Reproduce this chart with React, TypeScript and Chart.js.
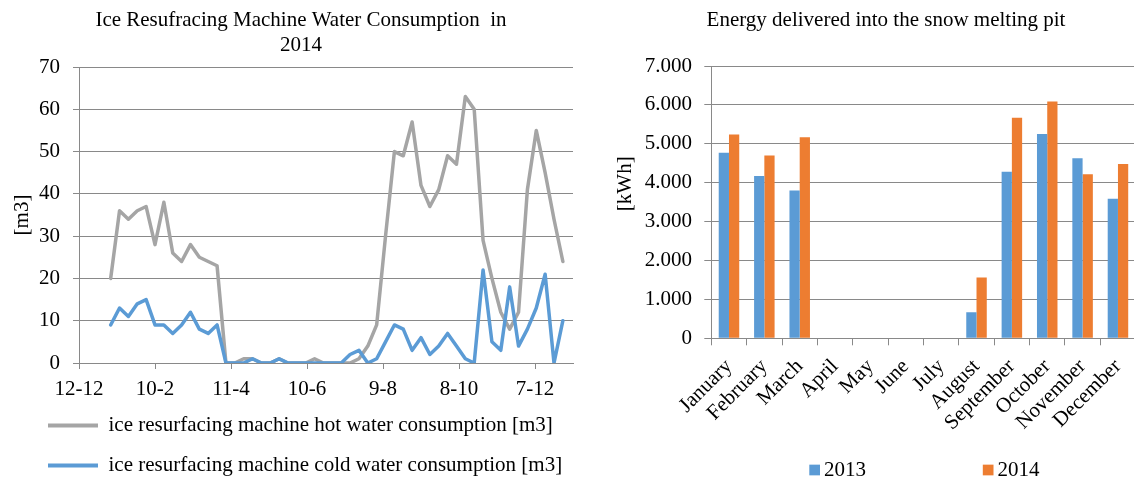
import React, { useEffect, useRef } from 'react';
import { Chart, registerables } from 'chart.js';

Chart.register(...registerables);

const FONT = '"Liberation Serif", "Times New Roman", serif';
const GRID = '#898989';
const TEXT = '#000000';

// ---------- left chart data ----------
const axisStartDate = '2013-12-12';
const weekDates = [
  '2014-01-06', '2014-01-13', '2014-01-20', '2014-01-27',
  '2014-02-03', '2014-02-10', '2014-02-17', '2014-02-24',
  '2014-03-03', '2014-03-10', '2014-03-17', '2014-03-24', '2014-03-31',
  '2014-04-07', '2014-04-14', '2014-04-21', '2014-04-28',
  '2014-05-05', '2014-05-12', '2014-05-19', '2014-05-26',
  '2014-06-02', '2014-06-09', '2014-06-16', '2014-06-23', '2014-06-30',
  '2014-07-07', '2014-07-14', '2014-07-21', '2014-07-28',
  '2014-08-04', '2014-08-11', '2014-08-18', '2014-08-25',
  '2014-09-01', '2014-09-08', '2014-09-15', '2014-09-22', '2014-09-29',
  '2014-10-06', '2014-10-13', '2014-10-20', '2014-10-27',
  '2014-11-03', '2014-11-10', '2014-11-17', '2014-11-24',
  '2014-12-01', '2014-12-08', '2014-12-15', '2014-12-22', '2014-12-29',
];
const hotWater = [
  20, 36, 34, 36, 37, 28, 38, 26, 24, 28, 25, 24, 23, 0,
  0, 1, 1, 0, 0, 1, 0, 0, 0, 1, 0, 0, 0, 0, 1, 4, 9, 30,
  50, 49, 57, 42, 37, 41, 49, 47, 63, 60, 29, 20, 12, 8, 12, 41, 55, 45, 34, 24,
];
const coldWater = [
  9, 13, 11, 14, 15, 9, 9, 7, 9, 12, 8, 7, 9, 0,
  0, 0, 1, 0, 0, 1, 0, 0, 0, 0, 0, 0, 0, 2, 3, 0, 1, 5,
  9, 8, 3, 6, 2, 4, 7, 4, 1, 0, 22, 5, 3, 18, 4, 8, 13, 21, 0, 10,
];
const xTickLabels = ['12-12', '10-2', '11-4', '10-6', '9-8', '8-10', '7-12'];
const xTickStepDays = 60;
const xAxisMaxDays = 390;
const lineTitle = ['Ice Resufracing Machine Water Consumption  in', '2014'];
const hotLabel = 'ice resurfacing machine hot water consumption [m3]';
const coldLabel = 'ice resurfacing machine cold water consumption [m3]';
const lineYTitle = '[m3]';

// ---------- right chart data ----------
const months = [
  'January', 'February', 'March', 'April', 'May', 'June',
  'July', 'August', 'September', 'October', 'November', 'December',
];
const energy2013 = [4770, 4170, 3800, 0, 0, 0, 0, 670, 4280, 5250, 4630, 3590];
const energy2014 = [5240, 4700, 5170, 0, 0, 0, 0, 1560, 5670, 6090, 4220, 4480];
const barSeriesLabels = ['2013', '2014'];
const barTitle = 'Energy delivered into the snow melting pit';
const barYTitle = '[kWh]';

const COLOR_GRAY = '#A5A5A5';
const COLOR_BLUE = '#5B9BD5';
const COLOR_ORANGE = '#ED7D31';

const font = { family: FONT, size: 21, weight: 'normal' as const };

function dayOffset(iso: string): number {
  const [y, m, d] = iso.split('-').map(Number);
  const [by, bm, bd] = axisStartDate.split('-').map(Number);
  return (Date.UTC(y, m - 1, d) - Date.UTC(by, bm - 1, bd)) / 86400000;
}

function formatThousands(v: number): string {
  if (v === 0) return '0';
  const th = Math.floor(v / 1000);
  const rest = Math.round(v % 1000);
  return `${th}.${String(rest).padStart(3, '0')}`;
}

const barLegendPlugin = {
  id: 'barLegend',
  afterDraw(chart: any) {
    const { ctx, chartArea } = chart;
    ctx.save();
    ctx.font = `21px ${FONT}`;
    ctx.textBaseline = 'middle';
    ctx.textAlign = 'left';
    chart.data.datasets.forEach((ds: any, i: number) => {
      const x = chartArea.left + 98 + i * 173.5;
      const y = chartArea.bottom + 131.7;
      ctx.fillStyle = ds.backgroundColor;
      ctx.fillRect(x, y - 5.35, 10.7, 10.7);
      ctx.fillStyle = TEXT;
      ctx.fillText(ds.label, x + 14.7, y);
    });
    ctx.restore();
  },
};

function LineChart() {
  const ref = useRef<HTMLCanvasElement>(null);
  useEffect(() => {
    if (!ref.current) return;
    const chart = new Chart(ref.current, {
      type: 'line',
      data: {
        datasets: [
          {
            label: hotLabel,
            data: weekDates.map((d, i) => ({ x: dayOffset(d), y: hotWater[i] })),
            borderColor: COLOR_GRAY,
            backgroundColor: COLOR_GRAY,
            borderWidth: 3.5,
            pointRadius: 0,
            borderJoinStyle: 'round',
            borderCapStyle: 'round',
            order: 1,
          },
          {
            label: coldLabel,
            data: weekDates.map((d, i) => ({ x: dayOffset(d), y: coldWater[i] })),
            borderColor: COLOR_BLUE,
            backgroundColor: COLOR_BLUE,
            borderWidth: 3.5,
            pointRadius: 0,
            borderJoinStyle: 'round',
            borderCapStyle: 'round',
            order: 0,
          },
        ],
      },
      options: {
        responsive: false,
        animation: false,
        events: [],
        layout: { padding: { left: 29, right: 32, top: 0, bottom: 0 } },
        plugins: {
          title: {
            display: true,
            text: lineTitle,
            font,
            color: TEXT,
            padding: { top: 8, bottom: 8.6 },
          },
          legend: {
            position: 'bottom',
            align: 'start',
            labels: {
              font,
              color: TEXT,
              boxWidth: 50,
              boxHeight: 4,
              padding: 19,
              sort: (a: any, b: any) => a.datasetIndex - b.datasetIndex,
              generateLabels: (c: any) =>
                Chart.defaults.plugins.legend.labels
                  .generateLabels(c)
                  .map((l: any) => ({ ...l, fillStyle: l.strokeStyle, lineWidth: 0 })),
            },
          },
          tooltip: { enabled: false },
        },
        scales: {
          x: {
            type: 'linear',
            min: 0,
            max: xAxisMaxDays,
            afterFit: (s: any) => {
              s.height = 33;
            },
            border: { display: true, color: GRID, width: 1 },
            grid: { drawOnChartArea: false, drawTicks: true, tickLength: 6, color: GRID },
            ticks: {
              stepSize: xTickStepDays,
              includeBounds: false,
              autoSkip: false,
              maxRotation: 0,
              padding: 8,
              font,
              color: TEXT,
              callback: (v: any) => xTickLabels[Math.round(Number(v) / xTickStepDays)] ?? '',
            },
          },
          y: {
            min: 0,
            max: 70,
            afterFit: (s: any) => {
              s.width = 50;
            },
            border: { display: true, color: GRID, width: 1 },
            grid: { color: GRID, tickLength: 6 },
            ticks: { stepSize: 10, padding: 13, font, color: TEXT },
            title: {
              display: true,
              text: lineYTitle,
              font,
              color: TEXT,
              padding: { top: -19.6, bottom: 0 },
            },
          },
        },
      },
    } as any);
    return () => chart.destroy();
  }, []);
  return (
    <canvas
      ref={ref}
      width={605}
      height={486}
      style={{ position: 'absolute', left: 0, top: 0, width: 605, height: 486 }}
    />
  );
}

function BarChart() {
  const ref = useRef<HTMLCanvasElement>(null);
  useEffect(() => {
    if (!ref.current) return;
    const chart = new Chart(ref.current, {
      type: 'bar',
      data: {
        labels: months,
        datasets: [
          {
            label: barSeriesLabels[0],
            data: energy2013,
            backgroundColor: COLOR_BLUE,
            categoryPercentage: 0.58,
            barPercentage: 1,
          },
          {
            label: barSeriesLabels[1],
            data: energy2014,
            backgroundColor: COLOR_ORANGE,
            categoryPercentage: 0.58,
            barPercentage: 1,
          },
        ],
      },
      options: {
        responsive: false,
        animation: false,
        events: [],
        layout: { padding: { left: 27.3, right: 5.3, top: 0, bottom: 0 } },
        plugins: {
          title: {
            display: true,
            text: barTitle,
            font,
            color: TEXT,
            padding: { top: 8, bottom: 32.8 },
          },
          legend: { display: false },
          tooltip: { enabled: false },
        },
        scales: {
          x: {
            afterFit: (s: any) => {
              s.height = 140.7;
            },
            border: { display: true, color: GRID, width: 1 },
            grid: { drawOnChartArea: false, drawTicks: true, tickLength: 7, color: GRID },
            ticks: {
              minRotation: 45,
              maxRotation: 45,
              autoSkip: false,
              padding: 9,
              font,
              color: TEXT,
            },
          },
          y: {
            min: 0,
            max: 7000,
            afterFit: (s: any) => {
              s.width = 79;
            },
            border: { display: true, color: GRID, width: 1 },
            grid: { color: GRID, tickLength: 7 },
            ticks: {
              stepSize: 1000,
              padding: 12.3,
              font,
              color: TEXT,
              callback: (v: any) => formatThousands(Number(v)),
            },
            title: {
              display: true,
              text: '       ' + barYTitle,
              font,
              color: TEXT,
              padding: { top: -19.9, bottom: 0 },
            },
          },
        },
      },
      plugins: [barLegendPlugin],
    } as any);
    return () => chart.destroy();
  }, []);
  return (
    <canvas
      ref={ref}
      width={540}
      height={479}
      style={{ position: 'absolute', left: 605, top: 0, width: 540, height: 479 }}
    />
  );
}

export default function App() {
  return (
    <div
      style={{
        position: 'absolute',
        left: 0,
        top: 0,
        width: 1134,
        height: 479,
        overflow: 'hidden',
        background: '#ffffff',
      }}
    >
      <LineChart />
      <BarChart />
    </div>
  );
}
